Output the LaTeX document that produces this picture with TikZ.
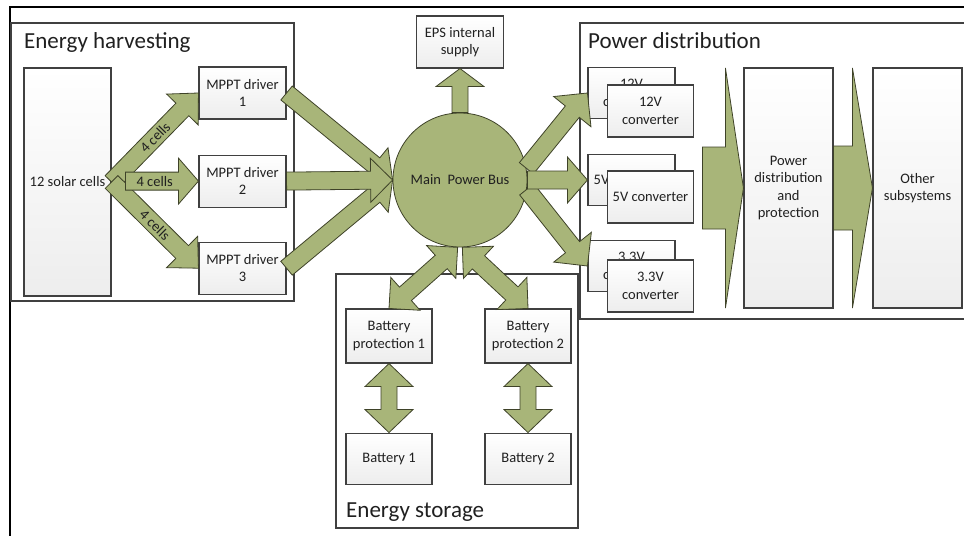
\documentclass[tikz,border=0pt]{standalone}
\usepackage{fontspec}
\setmainfont{Carlito}
\usepackage{tikz}
\usetikzlibrary{calc, positioning}
\definecolor{busGreen}{RGB}{168,181,121}
\definecolor{arrowLine}{RGB}{62,66,40}
\definecolor{boxLine}{RGB}{64,64,64}
\definecolor{textGray}{RGB}{32,32,32}
\tikzset{
  box/.style={draw=boxLine, line width=1.1pt, top color=white, bottom color=gray!14,
    align=center, inner sep=1pt, minimum width=87pt, minimum height=52pt,
    text=textGray, font=\fontsize{14.5}{17.5}\selectfont},
  group/.style={draw=boxLine, line width=1.3pt},
  title/.style={anchor=base west, inner sep=0pt, text=textGray, font=\fontsize{23}{27}\selectfont},
  barrow/.style={draw=arrowLine, line width=0.8pt, fill=busGreen},
  lbl/.style={inner sep=0pt, text=textGray, font=\fontsize{14.5}{17}\selectfont},
}
% block arrow: from, to, half shaft, half head, head length
\newcommand{\blockarrow}[5]{%
  \coordinate (hd) at ($(#2)!#5!(#1)$);
  \filldraw[barrow] ($(#1)!#3!90:(#2)$) -- ($(hd)!#3!90:(#2)$) -- ($(hd)!#4!90:(#2)$) -- (#2)
    -- ($(hd)!#4!-90:(#2)$) -- ($(hd)!#3!-90:(#2)$) -- ($(#1)!#3!-90:(#2)$) -- cycle;}
% double block arrow, same arguments
\newcommand{\dblockarrow}[5]{%
  \coordinate (ha) at ($(#1)!#5!(#2)$);
  \coordinate (hb) at ($(#2)!#5!(#1)$);
  \filldraw[barrow] (#1) -- ($(ha)!#4!90:(#2)$) -- ($(ha)!#3!90:(#2)$) -- ($(hb)!#3!90:(#2)$)
    -- ($(hb)!#4!90:(#2)$) -- (#2) -- ($(hb)!#4!-90:(#2)$) -- ($(hb)!#3!-90:(#2)$)
    -- ($(ha)!#3!-90:(#2)$) -- ($(ha)!#4!-90:(#2)$) -- cycle;}

\begin{document}
\begin{tikzpicture}[x=1pt, y=-1pt, node distance=35pt]
\useasboundingbox (0,0) rectangle (964,536);
\draw[line width=1.6pt] (964,7) -- (10,7) -- (10,536);
% groups
\draw[group] (11,23) rectangle (294,301);
\draw[group] (336,274) rectangle (578,528);
\draw[group] (966,23) -| (580,319) -- (966,319);
\node[title] (harvT) at (24,48) {Energy harvesting};
\node[title] (distT) at (588,48) {Power distribution};
\node[title] (storT) at (346,517) {Energy storage};

% energy harvesting
\node[box, minimum height=228pt] (solar) at (67.5,182) {12 solar cells};
\node[box] (mppt1) at (242.5,93) {MPPT driver\\1};
\node[box, below=35pt of mppt1] (mppt2) {MPPT driver\\2};
\node[box, below=34pt of mppt2] (mppt3) {MPPT driver\\3};

% bus
\node[circle, draw=arrowLine, line width=0.8pt, fill=busGreen, minimum size=134pt, inner sep=0pt,
  text=textGray, font=\fontsize{14.5}{17}\selectfont] (bus) at (460,180) {Main\ \ Power Bus};
\node[box] (eps) at (460,42) {EPS internal\\supply};

% power distribution
\node[box, minimum height=51pt] (b12) at (631.5,93) {12V\\converter};
\node[box, minimum height=51pt] (b5) at (631.5,180) {5V converter};
\node[box, minimum height=51pt] (b33) at (631.5,266) {3.3V\\converter};
\node[box, minimum width=86pt] (c12) at ($(b12)+(19,18)$) {12V\\converter};
\node[box, minimum width=86pt] (c5) at ($(b5)+(19,17)$) {5V converter};
\node[box, minimum width=86pt] (c33) at ($(b33)+(19,20)$) {3.3V\\converter};
\node[box, minimum width=89pt, minimum height=240pt] (pdp) at (788.5,188) {Power\\distribution\\and\\protection};
\node[box, minimum width=89pt, minimum height=240pt] (oth) at (917.5,188) {Other\\subsystems};

% energy storage
\node[box, minimum width=86pt, minimum height=54pt] (bp1) at (389,336) {Battery\\protection 1};
\node[box, minimum width=86pt, minimum height=54pt] (bp2) at (528,336) {Battery\\protection 2};
\node[box, minimum width=86pt, minimum height=51pt, below=69pt of bp1] (bat1) {Battery 1};
\node[box, minimum width=86pt, minimum height=51pt, below=69pt of bp2] (bat2) {Battery 2};

% arrows
\coordinate (s2) at ($(solar.east |- mppt2.west)+(14,0)$);
\blockarrow{solar.east}{mppt1.west}{9pt}{22pt}{23pt}
\blockarrow{solar.east}{mppt3.west}{9pt}{22pt}{23pt}
\blockarrow{s2}{mppt2.west}{9pt}{23pt}{20pt}
\path (solar.east) -- (mppt1.west) node[lbl, midway, sloped] {4 cells};
\path (s2) -- (mppt2.west) node[lbl, pos=0.4] {4 cells};
\path (solar.east) -- (mppt3.west) node[lbl, midway, sloped] {4 cells};

\blockarrow{mppt1.east}{bus.west}{9pt}{22pt}{24pt}
\blockarrow{mppt3.east}{bus.west}{9pt}{22pt}{24pt}
\blockarrow{mppt2.east}{bus.west}{9pt}{22pt}{22pt}

\blockarrow{bus.north}{eps.south}{8pt}{24pt}{18pt}
\blockarrow{bus.10}{b12.west}{9pt}{24pt}{24pt}
\blockarrow{bus.-8}{b33.west}{9pt}{24pt}{24pt}
\blockarrow{bus.east}{b5.west}{9pt}{23pt}{20pt}

\dblockarrow{bp1.north}{bus.268}{9pt}{22pt}{22pt}
\dblockarrow{bus.272}{bp2.north}{9pt}{22pt}{22pt}
\dblockarrow{bp1.south}{bat1.north}{8pt}{24pt}{23pt}
\dblockarrow{bp2.south}{bat2.north}{8pt}{24pt}{23pt}

\coordinate (pdtail) at ($(pdp.west)+(-41,0)$);
\blockarrow{pdtail}{pdp.west}{41pt}{120pt}{18pt}
\blockarrow{pdp.east}{oth.west}{42pt}{120pt}{20pt}
\end{tikzpicture}
\end{document}
